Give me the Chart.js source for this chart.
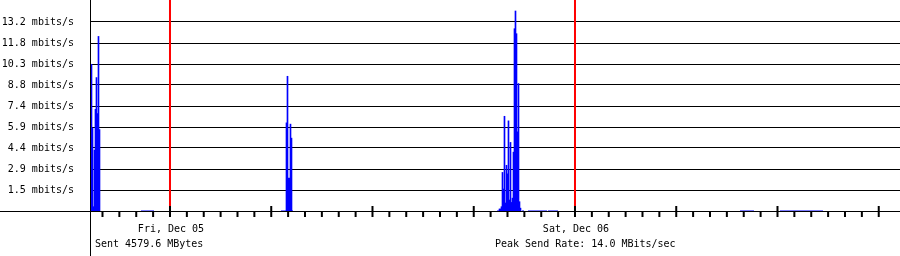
<!DOCTYPE html>
<html><head><meta charset="utf-8">
<script src="https://cdn.jsdelivr.net/npm/chart.js@4"></script>
<style>html,body{margin:0;padding:0;background:#fff}canvas{display:block}</style>
</head><body>
<canvas id="c" width="900" height="256"></canvas>
<script>
// x axis: hours relative to Fri, Dec 05 00:00
const rangeStartHour = -4.74;
const rangeEndHour = 43.26;
const yMax = 14.77;
const yTickValues = [1.47, 2.94, 4.41, 5.88, 7.35, 8.82, 10.29, 11.76, 13.23];
const yTickLabels = ['1.5 mbits/s', '2.9 mbits/s', '4.4 mbits/s', '5.9 mbits/s', '7.4 mbits/s',
                     '8.8 mbits/s', '10.3 mbits/s', '11.8 mbits/s', '13.2 mbits/s'];
const dayHours = [0, 24];
const dayLabels = ['Fri, Dec 05', 'Sat, Dec 06'];
const sentLabel = 'Sent 4579.6 MBytes';
const peakLabel = 'Peak Send Rate: 14.0 MBits/sec';

// send rate samples (Mbit/s)
const sendHours = [
  -4.652, -4.593, -4.533, -4.474, -4.415, -4.356, -4.296, -4.237, -4.178,
  6.904, 6.963, 7.022, 7.081, 7.141, 7.200,
  19.526, 19.585, 19.644, 19.704, 19.763, 19.822, 19.881, 19.941, 20.000, 20.059, 20.119,
  20.178, 20.237, 20.296, 20.356, 20.415, 20.474, 20.533, 20.593, 20.652, 20.711, 20.770
];
const sendRates = [
  10.27, 5.80, 0.30, 4.26, 7.12, 9.34, 6.82, 12.22, 5.70,
  6.17, 9.43, 2.30, 2.30, 6.08, 5.10,
  0.14, 0.14, 0.30, 2.70, 1.54, 6.63, 0.56, 3.20, 2.60, 6.31, 0.77,
  4.80, 0.60, 0.90, 4.12, 12.76, 14.00, 12.41, 5.54, 8.92, 0.65, 0.20
];
// low background traffic periods
const trickleStartHours = [-1.719, 6.578, 19.378, 20.859, 21.215, 22.400, 33.778, 36.148];
const trickleEndHours   = [-0.948, 7.289, 19.674, 20.978, 22.341, 22.993, 34.607, 38.696];
const trickleRates      = [0.07, 0.07, 0.07, 0.07, 0.07, 0.07, 0.07, 0.07];

const FONT = '10px "DejaVu Sans Mono"';

const sendData = sendHours.map((h, i) => ({x: h, y: sendRates[i]}));
const trickleData = [];
trickleStartHours.forEach((s, i) => {
  trickleData.push({x: s, y: trickleRates[i]}, {x: trickleEndHours[i], y: trickleRates[i]}, {x: trickleEndHours[i], y: null});
});

const framePlugin = {
  id: 'frame',
  beforeDraw(chart) {
    const c = chart.ctx;
    c.save(); c.fillStyle = '#fff'; c.fillRect(0, 0, chart.width, chart.height); c.restore();
  },
  afterDraw(chart) {
    const c = chart.ctx, xs = chart.scales.x, ys = chart.scales.y, a = chart.chartArea;
    const base = Math.floor(ys.getPixelForValue(0));
    c.save();
    // day boundary lines
    c.fillStyle = '#ff0000';
    dayHours.forEach(h => {
      const px = xs.getPixelForValue(h);
      c.fillRect(px - 1, 0, 2, base - 5);
    });
    // baseline & y axis
    c.fillStyle = '#000';
    c.fillRect(0, base, chart.width, 1);
    c.fillRect(Math.floor(a.left), 0, 1, chart.height);
    // hour ticks
    for (let h = Math.ceil(rangeStartHour); h <= rangeEndHour - 1; h++) {
      const px = xs.getPixelForValue(h);
      if (h % 6 === 0) c.fillRect(px - 1, base - 5, 2, 11);
      else c.fillRect(px - 1, base + 1, 2, 5);
    }
    // texts
    c.font = FONT;
    c.fillStyle = '#000';
    c.textBaseline = 'alphabetic';
    c.textAlign = 'center';
    dayHours.forEach((h, i) => {
      c.fillText(dayLabels[i], xs.getPixelForValue(h) + 1, 232);
    });
    c.textAlign = 'left';
    c.fillText(sentLabel, a.left + 5, 247);
    c.fillText(peakLabel, xs.getPixelForValue(dayHours[1]) - 80, 247);
    c.restore();
  }
};

new Chart(document.getElementById('c'), {
  type: 'bar',
  data: {
    datasets: [
      {type: 'bar', data: sendData, backgroundColor: '#0000ff', borderWidth: 0, barThickness: 1, grouped: false, order: 1},
      {type: 'line', data: trickleData, borderColor: 'transparent', borderWidth: 0, backgroundColor: '#7c7cff',
       fill: 'origin', pointRadius: 0, spanGaps: false, tension: 0, order: 2}
    ]
  },
  options: {
    responsive: false, animation: false, devicePixelRatio: 1,
    layout: {padding: 0},
    plugins: {legend: {display: false}, tooltip: {enabled: false}},
    scales: {
      x: {
        type: 'linear', min: rangeStartHour, max: rangeEndHour, offset: false,
        grid: {display: false, offset: false}, border: {display: false},
        ticks: {display: false},
        afterFit: s => { s.height = 45; s.paddingLeft = 0; s.paddingRight = 0; }
      },
      y: {
        type: 'linear', min: 0, max: yMax,
        afterBuildTicks: s => { s.ticks = yTickValues.map(v => ({value: v})); },
        afterFit: s => { s.width = 90; s.paddingTop = 0; s.paddingBottom = 0; },
        grid: {color: '#000', lineWidth: 1, drawTicks: false},
        border: {display: false},
        ticks: {
          padding: 16, color: '#000', font: {family: 'DejaVu Sans Mono', size: 10},
          callback: (v, i) => yTickLabels[i]
        }
      }
    }
  },
  plugins: [framePlugin]
});
</script>
</body></html>
